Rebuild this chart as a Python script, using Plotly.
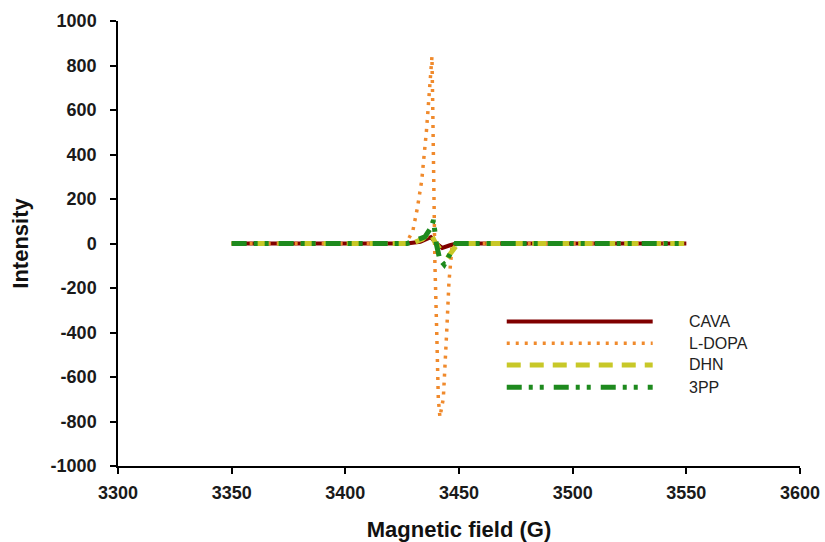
import plotly.graph_objects as go

# EPR derivative spectra (intensity vs magnetic field)
field_cava = [3350, 3427.1, 3433.0, 3437.6, 3440.1, 3442.6, 3446.0, 3449.0, 3550]
int_cava = [0, 0, 8, 28, 0, -20, -8, 0, 0]

field_ldopa = [3350, 3426.0, 3427.5, 3429.7, 3431.7, 3433.6, 3435.7, 3437.2, 3438.1,
               3438.4, 3439.0, 3439.4, 3440.2, 3440.9, 3441.6, 3443.1, 3444.6,
               3445.6, 3446.9, 3448.2, 3550]
int_ldopa = [0, 0, 15, 57, 160, 283, 508, 734, 840,
             650, 200, -90, -395, -697, -780, -697, -395,
             -170, -20, 0, 0]

field_dhn = [3350, 3429.1, 3434.0, 3437.3, 3439.5, 3442.0, 3445.5, 3447.5, 3449.5, 3550]
int_dhn = [0, 0, 20, 50, 5, -30, -55, -25, 0, 0]

field_3pp = [3350, 3427.1, 3431.0, 3435.0, 3437.6, 3438.8, 3440.0, 3441.5, 3443.5, 3445.5, 3448.6, 3550]
int_3pp = [0, 0, 15, 30, 70, 105, 0, -70, -95, -60, 0, 0]

names = ["CAVA", "L-DOPA", "DHN", "3PP"]
colors = ["#800000", "#f08a2c", "#c8c828", "#1e8a1e"]
widths = [4, 3.5, 5, 5]
dashes = ["solid", "3px,6px", "14px,9px", "15px,7px,4px,7px,4px,10px"]

x_ticks = [3300, 3350, 3400, 3450, 3500, 3550, 3600]
y_ticks = [-1000, -800, -600, -400, -200, 0, 200, 400, 600, 800, 1000]
y_tick_text = [str(v) for v in y_ticks]

series = [(field_cava, int_cava), (field_ldopa, int_ldopa),
          (field_dhn, int_dhn), (field_3pp, int_3pp)]

fig = go.Figure()
for (xs, ys), name, c, w, d in zip(series, names, colors, widths, dashes):
    fig.add_trace(go.Scatter(x=xs, y=ys, mode="lines", name=name,
                             line=dict(color=c, width=w, dash=d),
                             showlegend=False))

# Legend drawn with wide line samples
leg_x0, leg_x1, leg_tx = 0.570, 0.784, 0.834
leg_rows = [0.325, 0.276, 0.227, 0.177]
for name, c, w, d, yr in zip(names, colors, widths, dashes, leg_rows):
    fig.add_shape(type="line", xref="paper", yref="paper",
                  x0=leg_x0, x1=leg_x1, y0=yr, y1=yr,
                  line=dict(color=c, width=w, dash=d))
    fig.add_annotation(xref="paper", yref="paper", x=leg_tx, y=yr,
                       text=name, showarrow=False, xanchor="left", yanchor="middle",
                       font=dict(family="Liberation Sans, Arial", size=16, color="#222"))

axis_font = dict(family="Liberation Sans, Arial", size=18, color="#1a1a1a", weight="bold")
title_font = dict(family="Liberation Sans, Arial", size=22, color="#111", weight="bold")

fig.update_layout(
    width=825, height=542,
    margin=dict(l=118, r=25, t=21, b=76),
    paper_bgcolor="white", plot_bgcolor="white",
    showlegend=False,
    xaxis=dict(range=[3300, 3600], tickvals=x_ticks, ticks="outside", ticklen=6,
               tickcolor="black", tickwidth=1.5, showline=True, linecolor="black",
               linewidth=1.5, showgrid=False, zeroline=False, tickfont=axis_font,
               automargin=False, ticklabelstandoff=4,
               title=dict(text="Magnetic field (G)", font=title_font, standoff=21)),
    yaxis=dict(range=[-1000, 1000], tickvals=y_ticks, ticktext=y_tick_text,
               ticks="outside", ticklen=6, automargin=False, ticklabelstandoff=10,
               tickcolor="black", tickwidth=1.5, showline=True, linecolor="black",
               linewidth=1.5, showgrid=False, zeroline=False, tickfont=axis_font,
               title=dict(text="Intensity", font=title_font, standoff=16)),
)

fig.write_html("out.html")
